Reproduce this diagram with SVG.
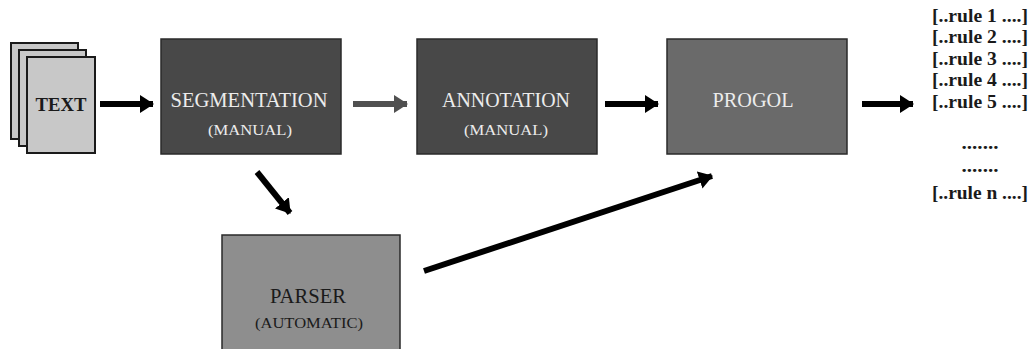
<svg xmlns="http://www.w3.org/2000/svg" width="1033" height="349" viewBox="0 0 1033 349">
<style>
.page{fill:#c8c8c8;stroke:#1a1a1a;stroke-width:2}
.box{stroke:#2a2a2a;stroke-width:1.5}
.t{font-family:"Liberation Serif",serif;text-anchor:middle}
.big{font-size:20px}
.small{font-size:15px}
.w{fill:#ececec}
.d{fill:#1a1a1a}
.rule{font-family:"Liberation Serif",serif;font-size:18px;font-weight:bold;fill:#1a1a1a;text-anchor:middle}
.arr{stroke:#000;stroke-width:6;fill:none}
</style>
<defs>
<marker id="ah" markerUnits="userSpaceOnUse" markerWidth="14" markerHeight="18" refX="13" refY="9" orient="auto">
<path d="M0,0 L14,9 L0,18 Z" fill="#000"/>
</marker>
<marker id="ahg" markerUnits="userSpaceOnUse" markerWidth="14" markerHeight="18" refX="13" refY="9" orient="auto">
<path d="M0,0 L14,9 L0,18 Z" fill="#505050"/>
</marker>
</defs>
<rect width="1033" height="349" fill="#fff"/>
<g id="text">
<rect class="page" x="11" y="43" width="67" height="96"/>
<rect class="page" x="19" y="50" width="67" height="96"/>
<rect class="page" x="27" y="57" width="68" height="96"/>
<text class="t d" x="61" y="111" font-size="18" font-weight="bold" textLength="51" lengthAdjust="spacingAndGlyphs">TEXT</text>
</g>
<g id="segmentation">
<rect class="box" x="161" y="39" width="180" height="115" fill="#484848"/>
<text class="t big w" x="249" y="107" textLength="157" lengthAdjust="spacingAndGlyphs">SEGMENTATION</text>
<text class="t small w" x="250" y="135" textLength="84" lengthAdjust="spacingAndGlyphs">(MANUAL)</text>
</g>
<g id="annotation">
<rect class="box" x="417" y="39" width="180" height="115" fill="#484848"/>
<text class="t big w" x="506" y="107" textLength="128" lengthAdjust="spacingAndGlyphs">ANNOTATION</text>
<text class="t small w" x="506" y="135" textLength="84" lengthAdjust="spacingAndGlyphs">(MANUAL)</text>
</g>
<g id="progol">
<rect class="box" x="667" y="39" width="180" height="115" fill="#6a6a6a"/>
<text class="t big w" x="753" y="107" textLength="81" lengthAdjust="spacingAndGlyphs">PROGOL</text>
</g>
<g id="parser">
<rect class="box" x="222" y="235" width="178" height="120" fill="#8e8e8e"/>
<text class="t big d" x="308" y="303" textLength="76" lengthAdjust="spacingAndGlyphs">PARSER</text>
<text class="t small d" x="309" y="328" textLength="108" lengthAdjust="spacingAndGlyphs">(AUTOMATIC)</text>
</g>
<g id="rules">
<text class="rule" x="980" y="22" textLength="96" lengthAdjust="spacingAndGlyphs">[..rule 1 ....]</text>
<text class="rule" x="980" y="43" textLength="96" lengthAdjust="spacingAndGlyphs">[..rule 2 ....]</text>
<text class="rule" x="980" y="65" textLength="96" lengthAdjust="spacingAndGlyphs">[..rule 3 ....]</text>
<text class="rule" x="980" y="86" textLength="96" lengthAdjust="spacingAndGlyphs">[..rule 4 ....]</text>
<text class="rule" x="980" y="108" textLength="96" lengthAdjust="spacingAndGlyphs">[..rule 5 ....]</text>
<text class="rule" x="980" y="149" textLength="37" lengthAdjust="spacingAndGlyphs">.......</text>
<text class="rule" x="980" y="172" textLength="37" lengthAdjust="spacingAndGlyphs">.......</text>
<text class="rule" x="980" y="199" textLength="96" lengthAdjust="spacingAndGlyphs">[..rule n ....]</text>
</g>
<g id="connectors">
<line class="arr" x1="100" y1="104" x2="153" y2="104" marker-end="url(#ah)"/>
<line class="arr" x1="353" y1="104" x2="407" y2="104" style="stroke:#505050" marker-end="url(#ahg)"/>
<line class="arr" x1="605" y1="104" x2="658" y2="104" marker-end="url(#ah)"/>
<line class="arr" x1="862" y1="104" x2="913" y2="104" marker-end="url(#ah)"/>
<line class="arr" x1="257" y1="172" x2="290" y2="213" marker-end="url(#ah)"/>
<line class="arr" x1="424" y1="271" x2="712" y2="176" marker-end="url(#ah)"/>
</g>
</svg>
